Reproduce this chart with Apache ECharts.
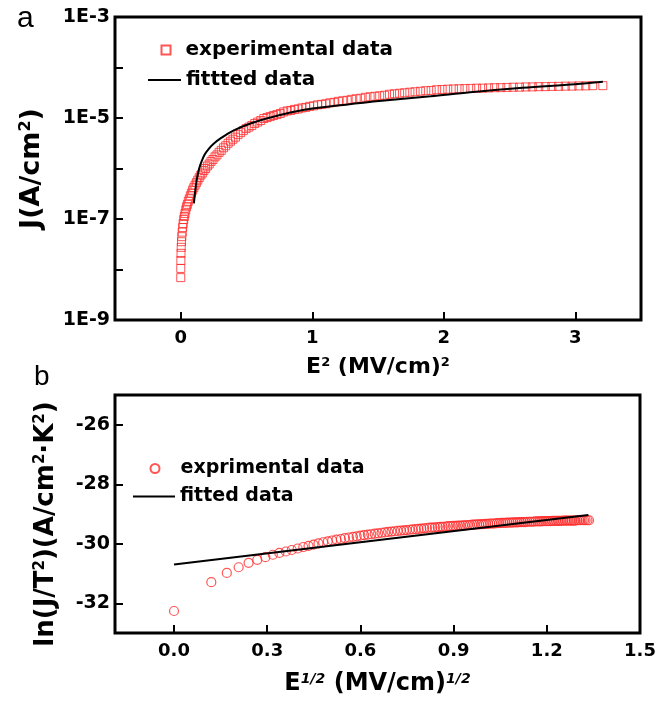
<!DOCTYPE html>
<html><head><meta charset="utf-8">
<script src="https://cdn.jsdelivr.net/npm/echarts@6/dist/echarts.min.js"></script>
<style>html,body{margin:0;padding:0;background:#fff}#c{width:668px;height:701px}</style>
</head><body><div id="c"></div>
<script>
// ---- Panel a: J vs E^2 ----
const aExpX = [0,0.0002,0.0009,0.002,0.0036,0.0056,0.0081,0.011,0.0144,0.0182,0.0225,0.0272,0.0324,0.038,0.0441,0.0506,0.0576,0.065,0.0729,0.0812,0.09,0.0992,0.1089,0.119,0.1296,0.1406,0.1521,0.164,0.1764,0.1892,0.2025,0.2162,0.2304,0.245,0.2601,0.2756,0.2916,0.308,0.3249,0.3422,0.36,0.3782,0.3969,0.416,0.4356,0.4556,0.4761,0.497,0.5184,0.5402,0.5625,0.5852,0.6084,0.632,0.6561,0.6806,0.7056,0.731,0.7569,0.7832,0.81,0.8372,0.8649,0.893,0.9216,0.9506,0.9801,1.01,1.0404,1.0712,1.1025,1.1342,1.1664,1.199,1.2321,1.2656,1.2996,1.334,1.3689,1.4042,1.44,1.4762,1.5129,1.55,1.5876,1.6256,1.6641,1.703,1.7424,1.7822,1.8225,1.8632,1.9044,1.946,1.9881,2.0306,2.0736,2.117,2.1609,2.2052,2.25,2.2952,2.3409,2.387,2.4336,2.4806,2.5281,2.576,2.6244,2.6732,2.7225,2.7722,2.8224,2.873,2.9241,2.9756,3.0276,3.08,3.1329,3.21];
const aExpJ = [6.9e-9,1.05e-8,1.51e-8,2.09e-8,2.75e-8,3.55e-8,4.47e-8,5.5e-8,6.76e-8,8.13e-8,
9.77e-8,1.12e-7,1.29e-7,1.51e-7,1.74e-7,1.95e-7,2.24e-7,2.51e-7,2.88e-7,3.24e-7,
3.72e-7,4.17e-7,4.68e-7,5.25e-7,5.89e-7,6.61e-7,7.41e-7,8.13e-7,9.12e-7,1.0e-6,
1.12e-6,1.23e-6,1.38e-6,1.51e-6,1.70e-6,1.86e-6,2.09e-6,2.29e-6,2.57e-6,2.82e-6,
3.16e-6,3.47e-6,3.80e-6,4.17e-6,4.68e-6,5.13e-6,5.62e-6,6.17e-6,6.61e-6,7.08e-6,
7.76e-6,8.32e-6,8.91e-6,9.77e-6,1.02e-5,1.07e-5,1.12e-5,1.17e-5,1.23e-5,1.32e-5,
1.38e-5,1.41e-5,1.48e-5,1.51e-5,1.58e-5,1.62e-5,1.70e-5,1.74e-5,1.82e-5,1.86e-5,
1.91e-5,2.0e-5,2.04e-5,2.14e-5,2.19e-5,2.24e-5,2.34e-5,2.40e-5,2.46e-5,2.57e-5,
2.63e-5,2.69e-5,2.75e-5,2.82e-5,2.95e-5,3.02e-5,3.09e-5,3.16e-5,3.24e-5,3.31e-5,
3.39e-5,3.47e-5,3.51e-5,3.63e-5,3.67e-5,3.72e-5,3.76e-5,3.80e-5,3.82e-5,3.85e-5,
3.89e-5,3.90e-5,3.94e-5,3.98e-5,3.99e-5,4.03e-5,4.07e-5,4.08e-5,4.12e-5,4.13e-5,
4.17e-5,4.18e-5,4.22e-5,4.23e-5,4.27e-5,4.28e-5,4.32e-5,4.33e-5,4.37e-5,4.37e-5];
const aFitX = [0.10,0.11,0.12,0.14,0.16,0.18,0.21,0.25,0.30,0.40,0.53,0.68,0.94,1.27,1.57,1.9,2.2,2.6,3.0,3.21];
const aFitJ = [2.04e-7,3.55e-7,5.62e-7,1.0e-6,1.41e-6,1.86e-6,2.40e-6,3.09e-6,3.89e-6,5.62e-6,7.76e-6,1.02e-5,1.45e-5,1.86e-5,2.24e-5,2.69e-5,3.24e-5,3.98e-5,4.68e-5,5.25e-5];
const aXTicks = [0,1,2,3];
const aYTicks = [1e-9,1e-8,1e-7,1e-6,1e-5,1e-4,1e-3];
const aYLabels = [1e-9,1e-7,1e-5,1e-3];

// ---- Panel b: ln(J/T^2) vs E^1/2 ----
const bExpX = [0,0.12,0.17,0.208,0.24,0.268,0.294,0.318,0.339,0.36,
0.379,0.398,0.416,0.433,0.449,0.465,0.48,0.495,0.509,0.523,
0.537,0.55,0.563,0.576,0.588,0.6,0.612,0.624,0.635,0.646,
0.657,0.668,0.679,0.689,0.7,0.71,0.72,0.73,0.74,0.749,
0.759,0.768,0.778,0.787,0.796,0.805,0.814,0.823,0.831,0.84,
0.849,0.857,0.865,0.874,0.882,0.89,0.898,0.906,0.914,0.922,
0.93,0.937,0.945,0.952,0.96,0.967,0.975,0.982,0.99,0.997,
1.004,1.011,1.018,1.025,1.032,1.039,1.046,1.053,1.06,1.067,
1.073,1.08,1.087,1.093,1.1,1.106,1.113,1.119,1.126,1.132,
1.138,1.145,1.151,1.157,1.163,1.17,1.176,1.182,1.188,1.194,
1.2,1.206,1.212,1.218,1.224,1.23,1.236,1.241,1.247,1.253,
1.259,1.264,1.27,1.276,1.281,1.287,1.292,1.298,1.304,1.309,
1.315,1.32,1.325,1.331,1.336];
const bExpY = [-32.26,-31.29,-30.98,-30.79,-30.64,-30.54,-30.45,-30.37,-30.31,-30.26,
-30.21,-30.16,-30.11,-30.07,-30.03,-29.99,-29.95,-29.92,-29.89,-29.86,
-29.84,-29.81,-29.79,-29.77,-29.75,-29.73,-29.71,-29.69,-29.68,-29.66,
-29.65,-29.63,-29.62,-29.60,-29.59,-29.58,-29.57,-29.56,-29.55,-29.54,
-29.53,-29.52,-29.51,-29.50,-29.49,-29.48,-29.47,-29.46,-29.46,-29.45,
-29.44,-29.43,-29.43,-29.42,-29.41,-29.41,-29.40,-29.40,-29.39,-29.39,
-29.38,-29.38,-29.37,-29.37,-29.36,-29.36,-29.35,-29.35,-29.34,-29.34,
-29.33,-29.33,-29.32,-29.32,-29.32,-29.31,-29.31,-29.30,-29.30,-29.30,
-29.29,-29.29,-29.29,-29.28,-29.28,-29.28,-29.27,-29.27,-29.27,-29.27,
-29.26,-29.26,-29.26,-29.26,-29.25,-29.25,-29.25,-29.25,-29.24,-29.24,
-29.24,-29.24,-29.24,-29.23,-29.23,-29.23,-29.23,-29.23,-29.23,-29.22,
-29.22,-29.22,-29.22,-29.22,-29.22,-29.22,-29.22,-29.21,-29.21,-29.21,
-29.21,-29.21,-29.21,-29.21,-29.21];
const bFitX = [0, 1.334];
const bFitY = [-30.70, -29.03];
const bXTicks = [0,0.3,0.6,0.9,1.2,1.5];
const bYTicks = [-32,-30,-28,-26];

const F = "'DejaVu Sans', sans-serif";
const RED = '#ff2b2b';
const pairs = (xs, ys) => xs.slice(0, Math.min(xs.length, ys.length)).map((x, i) => [x, ys[i]]);
const tickStyle = (vals) => ({show:true, inside:true, length:8, lineStyle:{color:'#000', width:2}, customValues: vals});
const labelStyle = (vals, size, extra) => Object.assign({customValues: vals, color:'#000', fontFamily:F, fontWeight:'bold', fontSize:size}, extra);
const mkRich = (big, small) => ({
  b:{fontFamily:F, fontWeight:'bold', fontSize:big, color:'#000'},
  s:{fontFamily:F, fontWeight:'bold', fontSize:small, color:'#000', verticalAlign:'top'},
  si:{fontFamily:F, fontWeight:'bold', fontStyle:'italic', fontSize:small, color:'#000', verticalAlign:'top'}
});
const nameStyle = (big, small, extra) => Object.assign({fontFamily:F, fontWeight:'bold', fontSize:big, color:'#000', rich:mkRich(big, small)}, extra || {});
const legText = (pad, size) => ({fontFamily:F, fontWeight:'bold', fontSize:size, color:'#000', padding:[0,0,0,pad]});
const noLine = {show:false, onZero:false};

const chart = echarts.init(document.getElementById('c'), null, {renderer:'canvas'});
chart.setOption({
  animation:false,
  backgroundColor:'#fff',
  title:[
    {text:'a', left:17, top:4, padding:0, textStyle:{fontFamily:"'Liberation Sans', Arial, sans-serif", fontWeight:'normal', fontSize:30, color:'#000'}},
    {text:'b', left:34, top:363, padding:0, textStyle:{fontFamily:"'Liberation Sans', Arial, sans-serif", fontWeight:'normal', fontSize:28, color:'#000'}}
  ],
  legend:[
    {data:['experimental data'], left:160.5, top:40, padding:0, itemWidth:9, itemHeight:9, textStyle:legText(10,20)},
    {data:[{name:'fittted data', icon:'rect'}], left:148, top:70, padding:0, itemWidth:33, itemHeight:2, textStyle:legText(0,20)},
    {data:['exprimental data'], left:149.5, top:459, padding:0, itemWidth:9, itemHeight:9, textStyle:legText(16,19)},
    {data:[{name:'fitted data', icon:'rect'}], left:133, top:487, padding:0, itemWidth:42, itemHeight:2, textStyle:legText(0,19)}
  ],
  grid:[
    {left:115, top:17, width:526, height:303, show:true, borderWidth:3, borderColor:'#000', backgroundColor:'rgba(0,0,0,0)'},
    {left:115, top:395, width:525, height:238, show:true, borderWidth:3, borderColor:'#000', backgroundColor:'rgba(0,0,0,0)'}
  ],
  xAxis:[
    {gridIndex:0, type:'value', min:-0.5, max:3.5, splitLine:{show:false}, axisLine:noLine,
     axisTick:tickStyle(aXTicks), axisLabel:labelStyle(aXTicks,18,{margin:9}),
     name:'{b|E}{s|2}{b| (MV/cm)}{s|2}', nameLocation:'middle', nameGap:36, nameTextStyle:nameStyle(22,13)},
    {gridIndex:1, type:'value', min:-0.19, max:1.5, splitLine:{show:false}, axisLine:noLine,
     axisTick:tickStyle(bXTicks), axisLabel:labelStyle(bXTicks,18,{margin:9, formatter:v=>v.toFixed(1)}),
     name:'{b|E}{si|1/2}{b| (MV/cm)}{si|1/2}', nameLocation:'middle', nameGap:39, nameTextStyle:nameStyle(24,14)}
  ],
  yAxis:[
    {gridIndex:0, type:'log', logBase:10, min:1e-9, max:1e-3, splitLine:{show:false}, axisLine:noLine,
     axisTick:tickStyle(aYTicks), axisLabel:labelStyle(aYLabels,19,{margin:5, formatter:v=>'1E'+Math.round(Math.log10(v))}),
     name:'{b|J(A/cm}{s|2}{b|)}', nameLocation:'middle', nameGap:70, nameTextStyle:nameStyle(27,16)},
    {gridIndex:1, type:'value', min:-33, max:-25, splitLine:{show:false}, axisLine:noLine,
     axisTick:tickStyle(bYTicks), axisLabel:labelStyle(bYTicks,19,{margin:5}),
     name:'{b|ln(J/T}{s|2}{b|)(A/cm}{s|2}{b|·K}{s|2}{b|)}', nameLocation:'middle', nameGap:56, nameTextStyle:nameStyle(26,15,{padding:[0,20,0,0]})}
  ],
  series:[
    {type:'scatter', name:'experimental data', xAxisIndex:0, yAxisIndex:0, data:pairs(aExpX,aExpJ),
     symbol:'rect', symbolSize:8, itemStyle:{color:'rgba(255,255,255,0)', borderColor:RED, borderWidth:1}, z:2},
    {type:'line', name:'fittted data', xAxisIndex:0, yAxisIndex:0, data:pairs(aFitX,aFitJ),
     symbol:'none', smooth:0.35, lineStyle:{color:'#000', width:2}, itemStyle:{color:'#000'}, z:3},
    {type:'scatter', name:'exprimental data', xAxisIndex:1, yAxisIndex:1, data:pairs(bExpX,bExpY),
     symbol:'circle', symbolSize:9, itemStyle:{color:'rgba(255,255,255,0)', borderColor:RED, borderWidth:1.2}, z:2},
    {type:'line', name:'fitted data', xAxisIndex:1, yAxisIndex:1, data:pairs(bFitX,bFitY),
     symbol:'none', lineStyle:{color:'#000', width:2}, itemStyle:{color:'#000'}, z:3}
  ]
});
</script>
</body></html>
